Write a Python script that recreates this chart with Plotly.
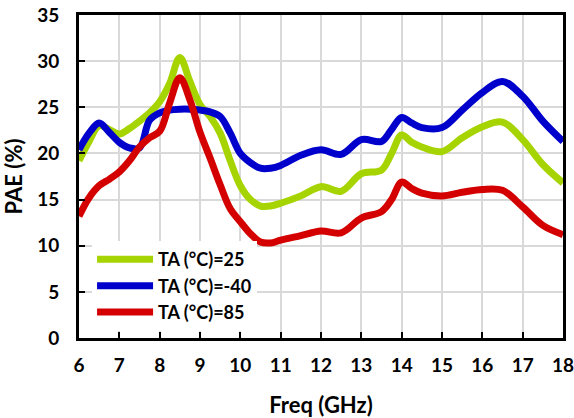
import plotly.graph_objects as go

# Frequency points (GHz) and PAE (%) values for each temperature
freq = [6, 6.25, 6.5, 6.75, 7, 7.25, 7.5, 7.75, 8, 8.25, 8.5, 8.75, 9, 9.25, 9.5, 9.75,
        10, 10.25, 10.5, 10.75, 11, 11.5, 12, 12.5, 13, 13.5, 13.75, 14, 14.25, 14.5, 15,
        15.5, 16, 16.5, 17, 17.5, 18]

pae_25 = [19.2, 21.3, 23.0, 22.6, 22.1, 22.7, 23.5, 24.4, 25.6, 27.6, 30.4, 27.8, 25.3, 24.0, 22.2, 19.2,
          16.5, 15.0, 14.3, 14.3, 14.6, 15.4, 16.4, 15.9, 17.8, 18.2, 20.0, 22.0, 21.2, 20.7, 20.2,
          21.7, 22.9, 23.4, 21.5, 18.8, 16.8]

pae_m40 = [20.4, 22.2, 23.3, 22.3, 21.2, 20.6, 20.6, 23.6, 24.4, 24.7, 24.8, 24.8, 24.7, 24.5, 24.0, 22.2,
           20.0, 19.0, 18.4, 18.4, 18.7, 19.8, 20.4, 19.9, 21.5, 21.3, 22.6, 23.9, 23.3, 22.8, 22.8,
           24.7, 26.6, 27.8, 26.2, 23.5, 21.3]

pae_85 = [13.2, 15.2, 16.5, 17.2, 18.0, 19.2, 20.7, 21.7, 22.4, 25.5, 28.2, 25.8, 22.3, 19.5, 16.6, 14.0,
          12.6, 11.3, 10.4, 10.3, 10.6, 11.1, 11.6, 11.4, 13.0, 13.7, 15.0, 16.9, 16.2, 15.7, 15.4,
          15.8, 16.1, 16.0, 14.2, 12.2, 11.2]

series = [
    ("TA (°C)=25", pae_25, "#A6D400"),
    ("TA (°C)=-40", pae_m40, "#0000CC"),
    ("TA (°C)=85", pae_85, "#D40000"),
]

x_ticks = list(range(6, 19))
y_ticks = list(range(0, 36, 5))

FONT = "Lato"

fig = go.Figure()
for name, vals, col in series:
    fig.add_trace(go.Scatter(
        x=freq, y=vals, name=name, mode="lines",
        line=dict(color=col, width=7, shape="spline", smoothing=1.0),
    ))

axis_common = dict(
    showgrid=True, gridcolor="#D9D9D9", gridwidth=2,
    showline=True, linecolor="black", linewidth=3, mirror=True,
    ticks="inside", ticklen=6, tickwidth=2, tickcolor="black",
    zeroline=False, ticklabeloverflow="allow",
    tickfont=dict(family=FONT, size=19, color="black", weight="bold"),
)

fig.update_xaxes(
    range=[6, 18], tickvals=x_ticks, ticktext=[str(v) for v in x_ticks],
    title=dict(text="Freq (GHz)", font=dict(family=FONT, size=22, color="black", weight="bold"), standoff=36),
    ticklabelstandoff=8,
    **axis_common,
)
fig.update_yaxes(
    range=[0, 35], tickvals=y_ticks, ticktext=[str(v) for v in y_ticks],
    title=dict(text="PAE (%)", font=dict(family=FONT, size=22, color="black", weight="bold"), standoff=16),
    ticklabelstandoff=13,
    **axis_common,
)

fig.update_layout(
    width=574, height=418,
    margin=dict(l=79, r=11, t=15, b=80, autoexpand=False),
    paper_bgcolor="white", plot_bgcolor="white",
    showlegend=True,
    legend=dict(
        x=0.027, y=0.30, xanchor="left", yanchor="top",
        bgcolor="white", borderwidth=0,
        font=dict(family=FONT, size=18, color="black", weight="bold"),
        itemwidth=56, tracegroupgap=0,
    ),
)

fig.write_html("out.html", config={"displayModeBar": False},
               post_script="document.body.style.margin='0';")
